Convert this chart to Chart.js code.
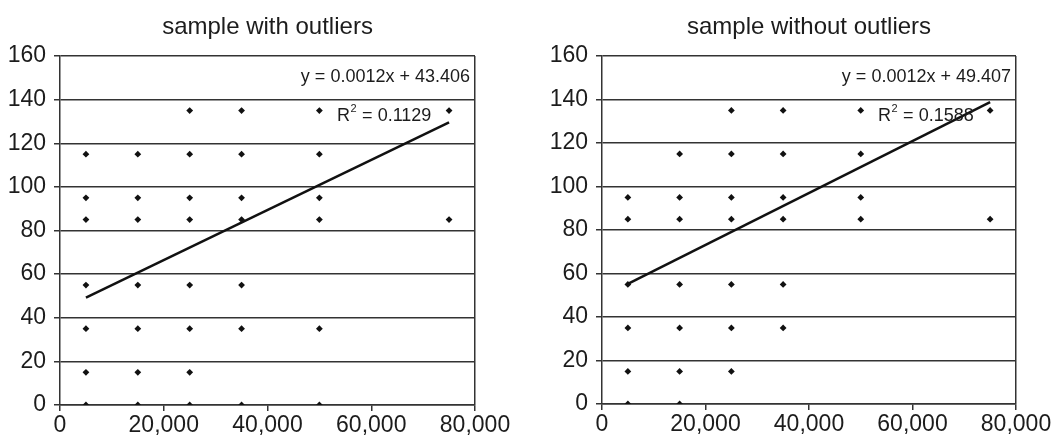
<!DOCTYPE html>
<html>
<head>
<meta charset="utf-8">
<script src="https://cdn.jsdelivr.net/npm/chart.js@4.4.1/dist/chart.umd.min.js"></script>
<style>
  html, body { margin: 0; padding: 0; background: #fff; }
  #wrap { position: relative; width: 1056px; height: 440px; }
  .cell { position: absolute; top: 0; width: 528px; height: 440px; }
</style>
</head>
<body>
<div id="wrap">
  <div class="cell" style="left:0"><canvas id="c1" width="528" height="440"></canvas></div>
  <div class="cell" style="left:528px"><canvas id="c2" width="528" height="440"></canvas></div>
</div>
<script>
// ---- data ----
const chartTitles = ['sample with outliers', 'sample without outliers'];
const equations = ['y = 0.0012x + 43.406', 'y = 0.0012x + 49.407'];
const rSquared = ['0.1129', '0.1588'];
const xTickValues = [0, 20000, 40000, 60000, 80000];
const yTickValues = [0, 20, 40, 60, 80, 100, 120, 140, 160];

const withX = [5000,5000,5000,5000,5000,5000,5000,
               15000,15000,15000,15000,15000,15000,15000,
               25000,25000,25000,25000,25000,25000,25000,25000,
               35000,35000,35000,35000,35000,35000,35000,
               50000,50000,50000,50000,50000,50000,
               75000,75000];
const withY = [115,95,85,55,35,15,0,
               115,95,85,55,35,15,0,
               135,115,95,85,55,35,15,0,
               135,115,95,85,55,35,0,
               135,115,95,85,35,0,
               135,85];

const withoutX = [5000,5000,5000,5000,5000,5000,
                  15000,15000,15000,15000,15000,15000,15000,
                  25000,25000,25000,25000,25000,25000,25000,
                  35000,35000,35000,35000,35000,35000,
                  50000,50000,50000,50000,
                  75000,75000];
const withoutY = [95,85,55,35,15,0,
                  115,95,85,55,35,15,0,
                  135,115,95,85,55,35,15,
                  135,115,95,85,55,35,
                  135,115,95,85,
                  135,85];

const trendWithX = [5000, 75000];
const trendWithY = [49.2, 129.6];
const trendWithoutX = [5000, 75000];
const trendWithoutY = [55.2, 138.8];

// ---- helpers ----
const FONT = "'Liberation Sans', Arial, Helvetica, sans-serif";
const INK = '#1c1c1c';
const GRID = '#333333';

function pts(xs, ys) { return xs.map((x, i) => ({ x: x, y: ys[i] })); }
function fmt(v) { return v.toLocaleString('en-US'); }

const textPlugin = {
  id: 'textOverlay',
  afterDraw(chart, args, opts) {
    const ctx = chart.ctx;
    const a = chart.chartArea;
    ctx.save();
    ctx.fillStyle = INK;
    // title
    ctx.font = '24px ' + FONT;
    ctx.textAlign = 'center';
    ctx.textBaseline = 'middle';
    ctx.fillText(opts.title, (a.left + a.right) / 2, 27);
    // equation
    ctx.font = '18px ' + FONT;
    ctx.textAlign = 'right';
    ctx.fillText(opts.equation, a.right - 5, 77);
    // R^2
    ctx.textAlign = 'left';
    let x = a.right - 138;
    const y = 116;
    ctx.fillText('R', x, y);
    x += ctx.measureText('R').width;
    ctx.font = '11px ' + FONT;
    ctx.fillText('2', x + 0.5, y - 7);
    x += ctx.measureText('2').width + 1;
    ctx.font = '18px ' + FONT;
    ctx.fillText(' = ' + opts.r2, x, y);
    ctx.restore();
  }
};

function makeChart(id, idx, xs, ys, tx, ty, pad) {
  return new Chart(document.getElementById(id), {
    type: 'scatter',
    data: {
      datasets: [
        {
          data: pts(xs, ys),
          pointStyle: 'rectRot',
          pointRadius: 3.4,
          pointBackgroundColor: '#111',
          pointBorderColor: '#111',
          pointBorderWidth: 0,
          showLine: false,
          order: 2
        },
        {
          data: pts(tx, ty),
          showLine: true,
          borderColor: '#111',
          borderWidth: 2.5,
          pointRadius: 0,
          fill: false,
          order: 1
        }
      ]
    },
    options: {
      responsive: false,
      animation: false,
      events: [],
      layout: { padding: pad },
      plugins: {
        legend: { display: false },
        tooltip: { enabled: false },
        title: { display: false },
        textOverlay: { title: chartTitles[idx], equation: equations[idx], r2: rSquared[idx] }
      },
      scales: {
        x: {
          type: 'linear',
          min: xTickValues[0],
          max: xTickValues[xTickValues.length - 1],
          afterBuildTicks: s => { s.ticks = xTickValues.map(v => ({ value: v })); },
          afterFit: s => { s.height = pad.xh; },
          ticks: {
            color: INK,
            font: { family: FONT, size: 23 },
            padding: 1,
            maxRotation: 0,
            autoSkip: false,
            callback: v => fmt(v)
          },
          grid: {
            drawOnChartArea: true,
            drawTicks: true,
            tickLength: 6,
            lineWidth: 1.5,
            color: c => (c.tick && c.tick.value === xTickValues[xTickValues.length - 1]) ? GRID : 'rgba(0,0,0,0)',
            tickColor: GRID,
            tickWidth: 1.5
          },
          border: { display: true, color: GRID, width: 1.5 }
        },
        y: {
          type: 'linear',
          min: yTickValues[0],
          max: yTickValues[yTickValues.length - 1],
          afterBuildTicks: s => { s.ticks = yTickValues.map(v => ({ value: v })); },
          afterFit: s => { s.width = 60; },
          ticks: {
            color: INK,
            font: { family: FONT, size: 23 },
            padding: 8,
            autoSkip: false
          },
          grid: {
            drawOnChartArea: true,
            drawTicks: true,
            tickLength: 6,
            lineWidth: 1.5,
            color: GRID,
            tickColor: GRID
          },
          border: { display: true, color: GRID, width: 1.5 }
        }
      }
    },
    plugins: [textPlugin]
  });
}

makeChart('c1', 0, withX, withY, trendWithX, trendWithY, { left: 0, top: 56, right: 53, bottom: 0, xh: 35 });
makeChart('c2', 1, withoutX, withoutY, trendWithoutX, trendWithoutY, { left: 14, top: 56, right: 40, bottom: 0, xh: 36 });
</script>
</body>
</html>
